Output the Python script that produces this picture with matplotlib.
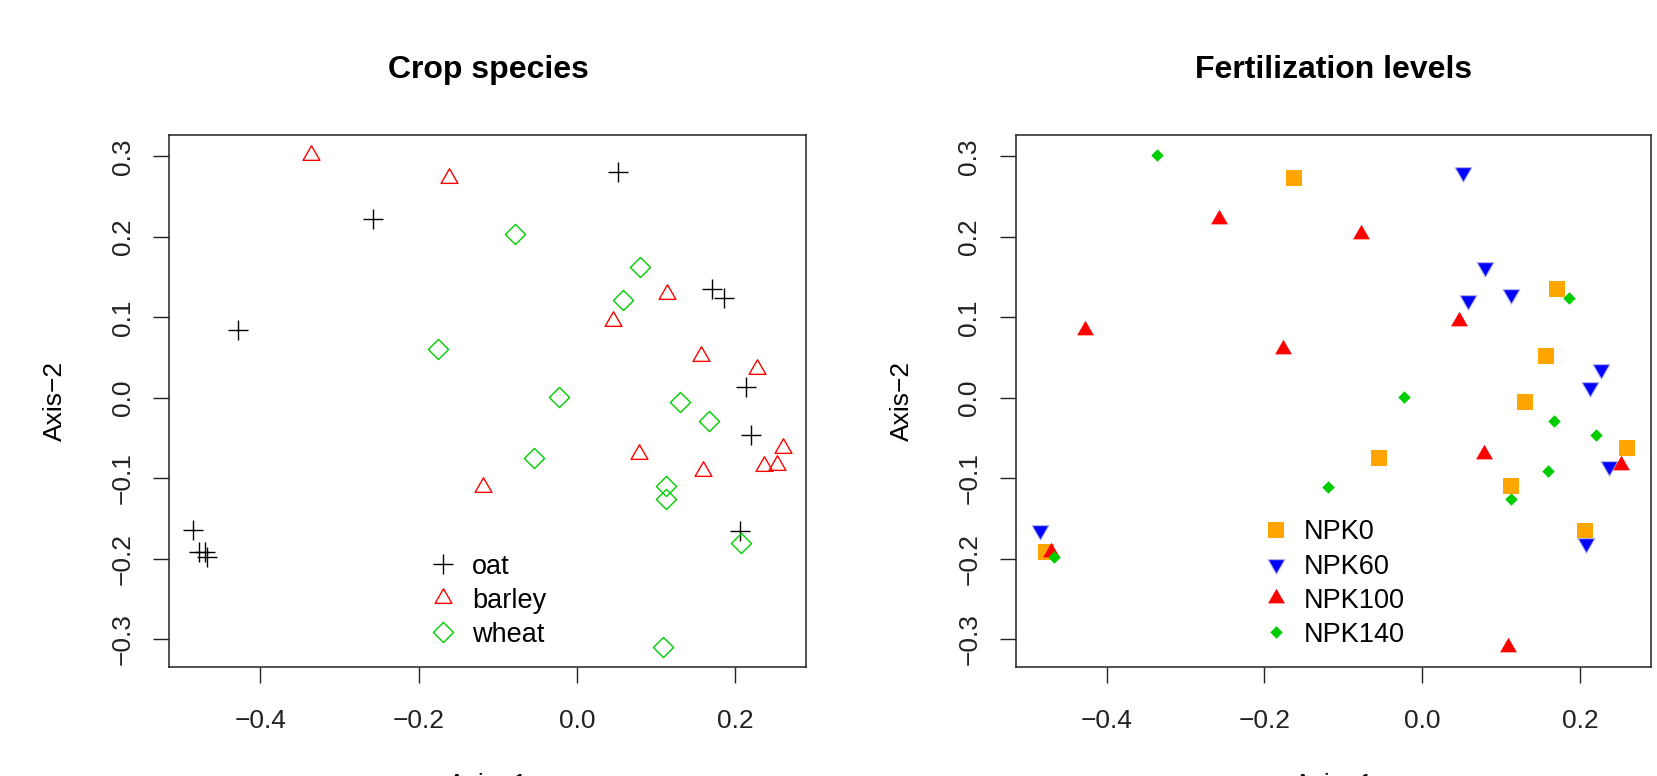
import matplotlib
matplotlib.use("Agg")
import matplotlib.pyplot as plt
import numpy as np
from matplotlib.path import Path

plt.rcParams['font.family'] = ['Liberation Sans', 'DejaVu Sans']

# ordination scores (Axis-1, Axis-2), one entry per plot
axis1 = [0.052, -0.258, 0.171, 0.186, -0.428, 0.213, 0.220, 0.206, -0.485, -0.477, -0.470, -0.467,
         -0.336, -0.162, 0.113, 0.046, 0.157, 0.227, 0.260, 0.078, 0.236, 0.252, 0.159, -0.119,
         -0.078, 0.080, 0.058, -0.176, -0.023, 0.130, 0.167, -0.055, 0.112, 0.112, 0.207, 0.108]
axis2 = [0.280, 0.222, 0.135, 0.124, 0.084, 0.014, -0.046, -0.165, -0.164, -0.192, -0.191, -0.198,
         0.302, 0.273, 0.129, 0.095, 0.052, 0.036, -0.063, -0.070, -0.085, -0.083, -0.091, -0.111,
         0.204, 0.162, 0.122, 0.060, 0.001, -0.005, -0.029, -0.075, -0.110, -0.126, -0.180, -0.310]
crop = ["oat"] * 12 + ["barley"] * 12 + ["wheat"] * 12
npk = ["NPK60", "NPK100", "NPK0", "NPK140", "NPK100", "NPK60", "NPK140", "NPK0", "NPK60", "NPK0", "NPK100", "NPK140",
       "NPK140", "NPK0", "NPK60", "NPK100", "NPK0", "NPK60", "NPK0", "NPK100", "NPK60", "NPK100", "NPK140", "NPK140",
       "NPK100", "NPK60", "NPK60", "NPK100", "NPK140", "NPK0", "NPK140", "NPK0", "NPK0", "NPK140", "NPK60", "NPK100"]

crop_levels = ["oat", "barley", "wheat"]
npk_levels = ["NPK0", "NPK60", "NPK100", "NPK140"]

x = np.array(axis1)
y = np.array(axis2)
crop = np.array(crop)
npk = np.array(npk)

# R-like marker shapes (equilateral triangles centred on centroid, diamonds)
tri_up = Path([(0, 1), (-0.866, -0.5), (0.866, -0.5), (0, 1)], closed=True)
tri_dn = Path([(0, -1), (-0.866, 0.5), (0.866, 0.5), (0, -1)], closed=True)
diamond = Path([(0, 1), (1, 0), (0, -1), (-1, 0), (0, 1)], closed=True)

crop_style = {
    "oat":    dict(marker="+", ms=14, mec="black", mfc="none", mew=1.0),
    "barley": dict(marker=tri_up, ms=14, mec="#ff0000", mfc="none", mew=1.0),
    "wheat":  dict(marker=diamond, ms=14.5, mec="#00cd00", mfc="none", mew=1.0),
}
npk_style = {
    "NPK0":   dict(marker="s", ms=11.5, mec="orange", mfc="orange", mew=0),
    "NPK60":  dict(marker=tri_dn, ms=14, mec="#b4b4ee", mfc="blue", mew=0.8),
    "NPK100": dict(marker=tri_up, ms=14, mec="red", mfc="red", mew=0),
    "NPK140": dict(marker=diamond, ms=9, mec="#00cd00", mfc="#00cd00", mew=0),
}

W, H = 1658, 776
fig = plt.figure(figsize=(W / 100, H / 100), dpi=100)
ax1 = fig.add_axes([169.5 / W, 109 / H, 637 / W, 532 / H])
ax2 = fig.add_axes([1016 / W, 109 / H, 635 / W, 532 / H])

# R default 4% axis expansion
xr = x.max() - x.min()
yr = y.max() - y.min()
xlim = (x.min() - 0.04 * xr, x.max() + 0.04 * xr)
ylim = (y.min() - 0.04 * yr, y.max() + 0.04 * yr)

for lev in crop_levels:
    m = crop == lev
    ax1.plot(x[m], y[m], ls="none", label=lev, **crop_style[lev])
for lev in npk_levels:
    m = npk == lev
    ax2.plot(x[m], y[m], ls="none", label=lev, **npk_style[lev])

xt = [-0.4, -0.2, 0.0, 0.2]
yt = [-0.3, -0.2, -0.1, 0.0, 0.1, 0.2, 0.3]

def fmt(v):
    s = "%.1f" % abs(v)
    return ("\u2212" + s) if v < -1e-9 else s

for ax, title in [(ax1, "Crop species"), (ax2, "Fertilization levels")]:
    ax.set_xlim(xlim)
    ax.set_ylim(ylim)
    ax.set_xticks(xt)
    ax.set_xticklabels([fmt(v) for v in xt])
    ax.set_yticks(yt)
    ax.set_yticklabels([fmt(v) for v in yt], rotation=90, va="center")
    ax.tick_params(axis="both", direction="out", length=11.5, width=1.0,
                   labelsize=19, colors="#222222")
    ax.tick_params(axis="x", pad=18.5)
    ax.tick_params(axis="y", pad=13.5)
    for sp in ax.spines.values():
        sp.set_linewidth(1.1)
        sp.set_color("#222222")
    ax.set_title(title, fontsize=23, fontweight="bold", pad=41)
    ax.set_ylabel("Axis\u22122", fontsize=19)
    ax.set_xlabel("Axis\u22121", fontsize=19)
    ax.yaxis.set_label_coords(-0.161, 0.5)
    ax.xaxis.set_label_coords(0.5, -0.199)
    ax.legend(loc="lower center", bbox_to_anchor=(0.5, 0.036), frameon=False,
              fontsize=19.5, borderpad=0, handlelength=1.0, handletextpad=0.55,
              labelspacing=0.3, borderaxespad=0)

fig.savefig("out.png", dpi=100)
